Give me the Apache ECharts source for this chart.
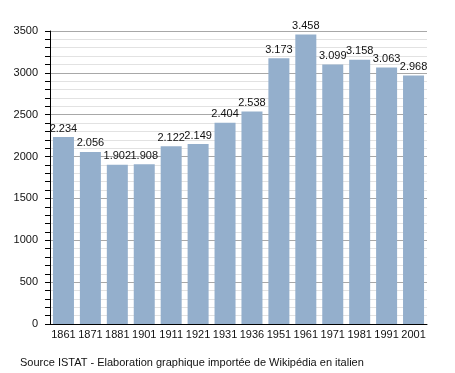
<!DOCTYPE html>
<html>
<head>
<meta charset="utf-8">
<script src="https://cdn.jsdelivr.net/npm/echarts@6/dist/echarts.min.js"></script>
<style>
html,body{margin:0;padding:0;background:#fff;}
#chart{width:455px;height:373px;}
</style>
</head>
<body>
<div id="chart"></div>
<script>
const years = ['1861','1871','1881','1901','1911','1921','1931','1936','1951','1961','1971','1981','1991','2001'];
const population = [2234,2056,1902,1908,2122,2149,2404,2538,3173,3458,3099,3158,3063,2968];
const yTicks = [0,500,1000,1500,2000,2500,3000,3500];
const sourceText = 'Source ISTAT - Elaboration graphique importée de Wikipédia en italien';

const font = 'Liberation Sans, Arial, sans-serif';
const chart = echarts.init(document.getElementById('chart'), null, {renderer:'canvas'});
chart.setOption({
  animation: false,
  backgroundColor: '#fff',
  grid: {left: 50, right: 28, top: 31, bottom: 49, containLabel: false},
  xAxis: {
    type: 'category',
    data: years,
    axisLine: {show: true, lineStyle: {color: '#000', width: 1}},
    axisTick: {show: false},
    axisLabel: {color: '#111', fontSize: 11, fontFamily: font, margin: 5, interval: 0}
  },
  yAxis: {
    type: 'value',
    min: yTicks[0],
    max: yTicks[yTicks.length-1],
    interval: 500,
    axisLine: {show: true, lineStyle: {color: '#000', width: 1}},
    axisTick: {show: true, length: 5, lineStyle: {color: '#000'}},
    minorTick: {show: true, splitNumber: 5, length: 5, lineStyle: {color: '#000'}},
    splitLine: {show: true, lineStyle: {color: '#a8a8a8', width: 1}},
    minorSplitLine: {show: true, lineStyle: {color: '#e2e2e2', width: 1}},
    axisLabel: {color: '#111', fontSize: 11, fontFamily: font, margin: 12, formatter: v => String(v)}
  },
  series: [{
    type: 'bar',
    data: population,
    barWidth: 21,
    itemStyle: {color: '#94afcc'},
    label: {
      show: true,
      position: 'top',
      distance: 3,
      color: '#111',
      fontSize: 11,
      fontFamily: font,
      formatter: p => (p.value/1000).toFixed(3)
    }
  }],
  graphic: [{
    type: 'text',
    left: 20,
    top: 357,
    style: {text: sourceText, fill: '#111', fontSize: 11, fontFamily: font}
  }]
});
</script>
</body>
</html>
